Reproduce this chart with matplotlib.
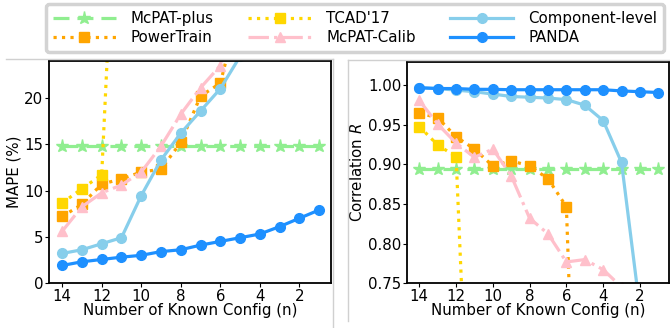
import matplotlib
matplotlib.use("Agg")
import matplotlib.pyplot as plt
from matplotlib.lines import Line2D
import numpy as np

# known configs (x axis, shown reversed)
n_known = [14, 13, 12, 11, 10, 9, 8, 7, 6, 5, 4, 3, 2, 1]

# MAPE (%) per method
mape_mcpat_plus = [14.8] * 14
mape_powertrain = [7.2, 8.5, 10.7, 11.25, 12.0, 12.3, 15.2, 20.2, 21.6, 30.0]
mape_tcad = [8.65, 10.2, 11.7, 57.0]
mape_calib = [5.6, 8.25, 9.75, 10.6, 12.0, 14.8, 18.25, 21.1, 23.5, 30.0]
mape_component = [3.2, 3.6, 4.25, 4.9, 9.45, 13.3, 16.2, 18.6, 21.0, 24.5, 28.0, 33.0, 40.0, 50.0]
mape_panda = [1.9, 2.3, 2.55, 2.8, 3.0, 3.4, 3.6, 4.1, 4.5, 4.9, 5.3, 6.1, 7.0, 7.9]

# correlation R per method
r_mcpat_plus = [0.894] * 14
r_powertrain = [0.965, 0.959, 0.935, 0.9195, 0.898, 0.9047, 0.898, 0.882, 0.8466, 0.18]
r_tcad = [0.948, 0.9246, 0.91, 0.36]
r_calib = [0.981, 0.951, 0.927, 0.909, 0.9195, 0.8856, 0.832, 0.8123, 0.7767, 0.7797, 0.767, 0.745, 0.70, 0.65]
r_component = [0.997, 0.996, 0.994, 0.992, 0.989, 0.986, 0.985, 0.984, 0.982, 0.975, 0.9555, 0.9025, 0.717, 0.60]
r_panda = [0.997, 0.996, 0.996, 0.995, 0.995, 0.9945, 0.9945, 0.9945, 0.9945, 0.9945, 0.9945, 0.993, 0.992, 0.991]

styles = {
    "McPAT-plus": dict(color="lightgreen", ls=(0, (5, 2.5)), marker="*", ms=9.5),
    "PowerTrain": dict(color="orange", ls=":", marker="s", ms=7),
    "TCAD'17": dict(color="gold", ls=":", marker="s", ms=7),
    "McPAT-Calib": dict(color="pink", ls="-.", marker="^", ms=7),
    "Component-level": dict(color="skyblue", ls="-", marker="o", ms=7),
    "PANDA": dict(color="dodgerblue", ls="-", marker="o", ms=7),
}

mape = {
    "McPAT-plus": mape_mcpat_plus,
    "PowerTrain": mape_powertrain,
    "TCAD'17": mape_tcad,
    "McPAT-Calib": mape_calib,
    "Component-level": mape_component,
    "PANDA": mape_panda,
}
corr = {
    "McPAT-plus": r_mcpat_plus,
    "PowerTrain": r_powertrain,
    "TCAD'17": r_tcad,
    "McPAT-Calib": r_calib,
    "Component-level": r_component,
    "PANDA": r_panda,
}

fs = 10.8
fig = plt.figure(figsize=(6.7, 3.28), dpi=100)
ax1 = fig.add_axes([0.0736, 0.137, 0.4204, 0.677])
ax2 = fig.add_axes([0.608, 0.137, 0.391, 0.675])

for ax, data in [(ax1, mape), (ax2, corr)]:
    for name, vals in data.items():
        st = styles[name]
        ax.plot(n_known[:len(vals)], vals, color=st["color"], ls=st["ls"],
                marker=st["marker"], ms=st["ms"], lw=2.3)
    ax.set_xlim(14.65, 0.4)
    ax.set_xticks([14, 12, 10, 8, 6, 4, 2])
    ax.set_xlabel("Number of Known Config (n)", fontsize=fs, labelpad=-1)
    ax.tick_params(labelsize=fs, pad=1.5, length=3)
    for sp in ax.spines.values():
        sp.set_linewidth(1.3)

ax1.set_ylim(0, 24)
ax1.set_yticks([0, 5, 10, 15, 20])
ax1.set_ylabel("MAPE (%)", fontsize=fs, labelpad=2)

ax2.set_ylim(0.75, 1.03)
ax2.set_yticks([0.75, 0.80, 0.85, 0.90, 0.95, 1.00])
ax2.set_yticklabels(["%.2f" % v for v in [0.75, 0.80, 0.85, 0.90, 0.95, 1.00]])
ax2.set_ylabel("Correlation $R$", fontsize=fs, labelpad=2)

# light panel frames from the original composite
grey = "#d0d0d0"
fig.add_artist(Line2D([0.009, 0.497], [0.82, 0.82], color=grey, lw=1))
fig.add_artist(Line2D([0.497, 0.497], [0.82, 0.0], color=grey, lw=1))
fig.add_artist(Line2D([0.519, 1.0], [0.817, 0.817], color=grey, lw=1))
fig.add_artist(Line2D([0.519, 0.519], [0.817, 0.02], color=grey, lw=1))

handles = [Line2D([], [], color=styles[k]["color"], ls=styles[k]["ls"], marker=styles[k]["marker"],
                  ms=styles[k]["ms"], lw=2.3) for k in styles]
leg = fig.legend(handles, list(styles.keys()), ncol=3, loc="upper center",
                 bbox_to_anchor=(0.53, 1.01), fontsize=fs, handlelength=4.2,
                 columnspacing=2.3, handletextpad=1.0, labelspacing=0.3,
                 borderpad=0.45, framealpha=1)
leg.get_frame().set_edgecolor("#d3d3d3")
leg.get_frame().set_linewidth(2.5)

fig.savefig("out.png", dpi=100)
